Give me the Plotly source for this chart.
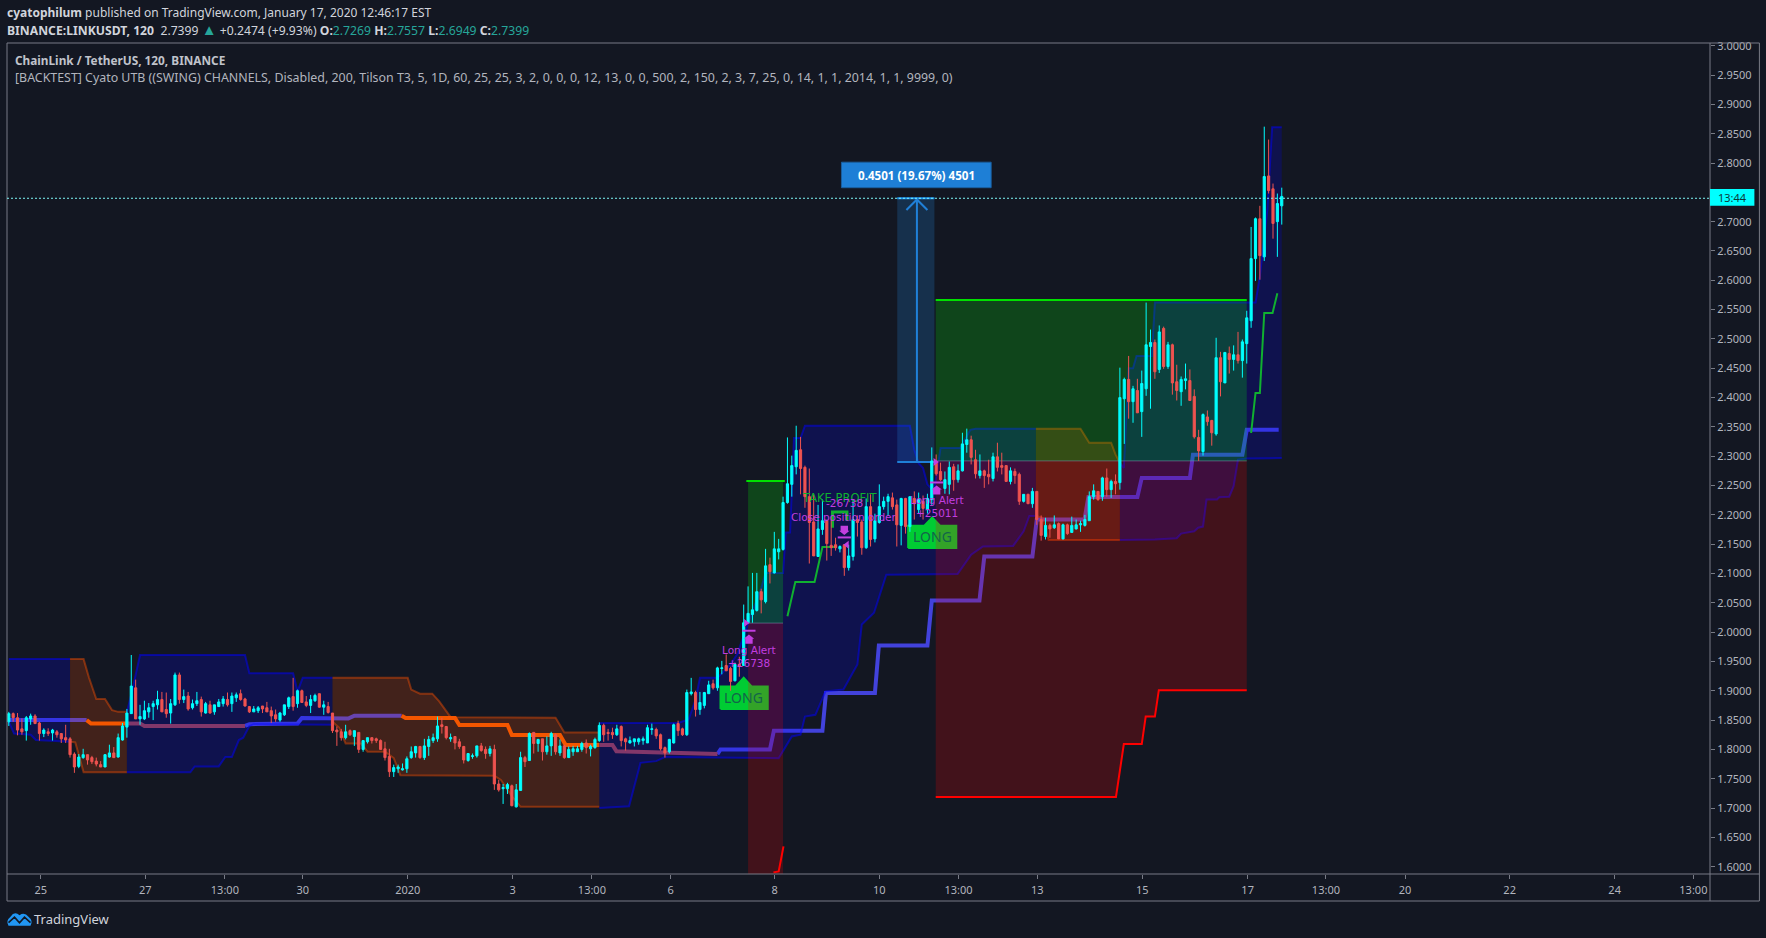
import plotly.graph_objects as go

# ---- candles (prices, one entry per 2h bar) ----
directions = ("uddduuddud" "uddddduudd" "dduuduuuud" "uuuuudduud" "uduududuuu"
              "duuddduudd" "dduuududdu" "ududdddudu" "duuddddduu" "uuuuduuuud"
              "duddduuudd" "udduuduudu" "duduududuu" "uuduuudddu" "dduuuuuudd"
              "duudduuduu" "uduudduduu" "uududuuuuu" "udddduuddd" "uduudduduu"
              "uuddududud" "uudduuduuu" "dduddudddu" "ddududdudu" "duduuuuuud"
              "ududuududu" "uudududduu" "ddduddudud" "uduuuududd" "uu")
highs = [1.864,1.863,1.862,1.853,1.857,1.861,1.860,1.847,1.836,1.836,
1.835,1.833,1.828,1.842,1.821,1.795,1.792,1.801,1.791,1.789,
1.786,1.780,1.792,1.808,1.804,1.827,1.845,1.869,1.961,1.919,
1.876,1.883,1.879,1.883,1.900,1.898,1.897,1.886,1.931,1.931,
1.902,1.898,1.885,1.898,1.890,1.881,1.883,1.876,1.886,1.891,
1.897,1.897,1.897,1.902,1.888,1.874,1.874,1.874,1.874,1.881,
1.873,1.868,1.864,1.876,1.890,1.922,1.902,1.902,1.891,1.893,
1.895,1.895,1.883,1.881,1.862,1.839,1.835,1.842,1.834,1.832,
1.829,1.815,1.820,1.820,1.820,1.817,1.813,1.801,1.774,1.774,
1.776,1.788,1.805,1.806,1.806,1.818,1.823,1.827,1.856,1.854,
1.840,1.827,1.822,1.818,1.806,1.793,1.793,1.806,1.811,1.805,
1.806,1.808,1.748,1.741,1.743,1.740,1.741,1.796,1.789,1.829,
1.829,1.818,1.818,1.822,1.830,1.827,1.817,1.808,1.805,1.806,
1.806,1.813,1.817,1.808,1.820,1.846,1.844,1.835,1.837,1.842,
1.841,1.820,1.822,1.818,1.820,1.822,1.842,1.844,1.837,1.827,
1.805,1.818,1.844,1.849,1.837,1.902,1.922,1.900,1.898,1.898,
1.917,1.919,1.941,1.951,1.962,1.941,1.948,1.958,2.047,2.078,
2.101,2.101,2.074,2.142,2.127,2.171,2.159,2.231,2.332,2.301,
2.352,2.333,2.284,2.279,2.235,2.217,2.226,2.192,2.192,2.161,
2.148,2.149,2.149,2.226,2.199,2.192,2.228,2.235,2.202,2.252,
2.231,2.236,2.238,2.226,2.229,2.229,2.231,2.240,2.238,2.233,
2.236,2.315,2.303,2.289,2.274,2.291,2.287,2.286,2.340,2.347,
2.335,2.311,2.303,2.277,2.294,2.306,2.323,2.306,2.284,2.281,
2.279,2.272,2.235,2.236,2.246,2.240,2.199,2.195,2.185,2.199,
2.187,2.185,2.185,2.197,2.192,2.190,2.200,2.240,2.252,2.240,
2.265,2.279,2.260,2.269,2.451,2.434,2.471,2.420,2.432,2.446,
2.562,2.516,2.499,2.523,2.521,2.495,2.492,2.456,2.436,2.458,
2.448,2.414,2.345,2.373,2.378,2.362,2.502,2.478,2.477,2.487,
2.489,2.512,2.499,2.548,2.691,2.707,2.727,2.862,2.840,2.765,
2.748,2.758]
body_tops = [1.861,1.861,1.854,1.835,1.854,1.857,1.857,1.845,1.833,1.830,
1.833,1.830,1.827,1.820,1.818,1.792,1.787,1.791,1.791,1.786,
1.780,1.774,1.791,1.794,1.794,1.820,1.840,1.862,1.908,1.905,
1.856,1.866,1.871,1.878,1.885,1.885,1.868,1.878,1.927,1.927,
1.890,1.891,1.878,1.883,1.885,1.878,1.876,1.876,1.881,1.886,
1.885,1.891,1.893,1.895,1.886,1.873,1.869,1.871,1.874,1.871,
1.866,1.859,1.862,1.876,1.888,1.890,1.900,1.900,1.881,1.885,
1.892,1.895,1.876,1.873,1.862,1.833,1.830,1.830,1.832,1.832,
1.829,1.815,1.820,1.820,1.818,1.815,1.801,1.788,1.769,1.770,
1.767,1.784,1.796,1.805,1.805,1.806,1.817,1.820,1.840,1.842,
1.839,1.820,1.822,1.813,1.805,1.793,1.789,1.806,1.806,1.800,
1.801,1.800,1.741,1.735,1.740,1.738,1.731,1.786,1.786,1.827,
1.829,1.817,1.818,1.806,1.827,1.825,1.806,1.806,1.800,1.801,
1.801,1.810,1.811,1.805,1.817,1.841,1.841,1.829,1.829,1.835,
1.839,1.818,1.815,1.818,1.818,1.818,1.837,1.835,1.834,1.825,
1.803,1.817,1.842,1.844,1.835,1.897,1.898,1.897,1.880,1.897,
1.910,1.912,1.939,1.939,1.943,1.938,1.945,1.945,2.016,2.032,
2.038,2.069,2.069,2.113,2.115,2.142,2.142,2.221,2.253,2.284,
2.310,2.311,2.281,2.231,2.188,2.176,2.190,2.190,2.148,2.149,
2.146,2.149,2.130,2.192,2.192,2.188,2.214,2.214,2.190,2.214,
2.223,2.231,2.229,2.217,2.228,2.228,2.231,2.228,2.226,2.223,
2.228,2.292,2.291,2.274,2.260,2.281,2.282,2.275,2.321,2.328,
2.328,2.294,2.275,2.275,2.269,2.299,2.299,2.284,2.284,2.275,
2.274,2.269,2.235,2.235,2.240,2.240,2.192,2.182,2.182,2.183,
2.185,2.183,2.183,2.182,2.183,2.185,2.192,2.231,2.241,2.240,
2.263,2.263,2.257,2.257,2.400,2.431,2.431,2.415,2.412,2.424,
2.490,2.494,2.494,2.512,2.518,2.490,2.490,2.427,2.431,2.432,
2.429,2.402,2.332,2.371,2.367,2.361,2.468,2.468,2.477,2.475,
2.473,2.473,2.495,2.536,2.637,2.705,2.705,2.777,2.778,2.756,
2.731,2.743]
body_bottoms = [1.847,1.854,1.833,1.830,1.832,1.852,1.844,1.827,1.827,1.827,
1.828,1.825,1.818,1.816,1.791,1.770,1.771,1.786,1.782,1.779,
1.775,1.770,1.770,1.787,1.786,1.787,1.816,1.838,1.861,1.852,
1.852,1.852,1.864,1.873,1.876,1.864,1.861,1.862,1.876,1.885,
1.885,1.869,1.871,1.878,1.864,1.862,1.862,1.864,1.873,1.878,
1.876,1.878,1.888,1.885,1.874,1.864,1.864,1.866,1.869,1.864,
1.857,1.852,1.850,1.859,1.873,1.873,1.878,1.880,1.875,1.875,
1.883,1.872,1.872,1.863,1.832,1.830,1.820,1.820,1.825,1.822,
1.800,1.800,1.813,1.815,1.815,1.800,1.786,1.762,1.762,1.767,
1.765,1.767,1.786,1.794,1.786,1.786,1.805,1.815,1.818,1.839,
1.820,1.818,1.811,1.805,1.782,1.781,1.788,1.789,1.798,1.793,
1.793,1.741,1.731,1.733,1.733,1.704,1.702,1.730,1.779,1.781,
1.810,1.810,1.796,1.796,1.806,1.796,1.794,1.786,1.786,1.796,
1.796,1.800,1.803,1.801,1.803,1.815,1.825,1.827,1.825,1.825,
1.815,1.813,1.811,1.813,1.813,1.815,1.811,1.834,1.823,1.801,
1.794,1.796,1.811,1.832,1.825,1.825,1.895,1.868,1.868,1.875,
1.895,1.905,1.905,1.938,1.934,1.916,1.917,1.942,1.943,2.016,
2.030,2.037,2.055,2.052,2.103,2.101,2.137,2.141,2.221,2.252,
2.282,2.279,2.231,2.187,2.130,2.129,2.175,2.151,2.144,2.144,
2.142,2.110,2.110,2.129,2.187,2.144,2.144,2.158,2.159,2.187,
2.214,2.223,2.214,2.183,2.182,2.180,2.180,2.219,2.209,2.211,
2.209,2.226,2.270,2.260,2.245,2.252,2.260,2.260,2.275,2.320,
2.298,2.270,2.267,2.267,2.265,2.262,2.281,2.281,2.257,2.257,
2.267,2.223,2.223,2.219,2.219,2.192,2.165,2.163,2.176,2.178,
2.159,2.159,2.168,2.170,2.176,2.183,2.182,2.190,2.231,2.226,
2.231,2.243,2.243,2.253,2.255,2.398,2.393,2.393,2.374,2.376,
2.415,2.487,2.444,2.448,2.453,2.453,2.425,2.412,2.410,2.429,
2.395,2.333,2.309,2.308,2.359,2.340,2.338,2.427,2.425,2.465,
2.465,2.463,2.463,2.492,2.531,2.637,2.642,2.640,2.753,2.697,
2.700,2.727]
lows = [1.840,1.847,1.824,1.825,1.815,1.842,1.844,1.815,1.821,1.823,
1.815,1.820,1.811,1.811,1.786,1.760,1.768,1.784,1.774,1.775,
1.771,1.770,1.770,1.786,1.786,1.786,1.815,1.820,1.861,1.852,
1.842,1.850,1.854,1.850,1.868,1.864,1.854,1.844,1.874,1.878,
1.879,1.866,1.868,1.874,1.856,1.861,1.861,1.859,1.873,1.873,
1.873,1.864,1.881,1.883,1.873,1.862,1.864,1.862,1.862,1.864,
1.845,1.847,1.847,1.857,1.869,1.866,1.871,1.880,1.872,1.862,
1.881,1.871,1.859,1.861,1.828,1.806,1.815,1.817,1.823,1.806,
1.794,1.796,1.810,1.810,1.811,1.800,1.781,1.753,1.753,1.760,
1.764,1.760,1.784,1.786,1.784,1.782,1.789,1.811,1.813,1.827,
1.817,1.813,1.800,1.801,1.776,1.779,1.784,1.786,1.796,1.784,
1.788,1.731,1.728,1.707,1.724,1.703,1.701,1.730,1.770,1.781,
1.793,1.796,1.781,1.791,1.789,1.791,1.789,1.784,1.786,1.789,
1.796,1.796,1.793,1.788,1.801,1.813,1.813,1.815,1.818,1.823,
1.805,1.798,1.810,1.805,1.808,1.808,1.811,1.825,1.818,1.798,
1.786,1.793,1.810,1.823,1.823,1.823,1.892,1.856,1.859,1.870,
1.895,1.902,1.900,1.928,1.934,1.900,1.916,1.924,1.943,2.016,
2.016,2.035,2.032,2.049,2.083,2.100,2.124,2.139,2.219,2.231,
2.269,2.235,2.212,2.117,2.130,2.129,2.166,2.122,2.130,2.139,
2.136,2.096,2.105,2.122,2.163,2.132,2.142,2.146,2.153,2.185,
2.209,2.198,2.209,2.146,2.148,2.168,2.171,2.192,2.203,2.192,
2.202,2.217,2.267,2.258,2.236,2.235,2.241,2.255,2.274,2.306,
2.286,2.262,2.262,2.246,2.252,2.257,2.274,2.269,2.257,2.252,
2.253,2.217,2.221,2.219,2.212,2.183,2.156,2.158,2.161,2.176,
2.159,2.158,2.166,2.170,2.175,2.171,2.180,2.190,2.226,2.224,
2.224,2.231,2.229,2.235,2.243,2.321,2.364,2.357,2.374,2.333,
2.403,2.381,2.432,2.442,2.449,2.449,2.405,2.395,2.386,2.414,
2.395,2.330,2.292,2.301,2.352,2.318,2.335,2.402,2.425,2.441,
2.446,2.458,2.434,2.458,2.519,2.599,2.601,2.633,2.748,2.671,
2.640,2.695]

# ---- channel segments: (bar, price) ----
upper_a = [(0,1.954),(14,1.954)]
lower_a = [(0,1.847),(1.2,1.827),(5,1.825),(6.2,1.816),(14,1.813)]
upper_b = [(14,1.954),(17.1,1.954),(18.3,1.923),(20,1.886),(22,1.886),(23.6,1.867),(25,1.864),(27,1.864)]
lower_b = [(14,1.813),(15.2,1.812),(17.1,1.761),(27,1.761)]
upper_c = [(27,1.864),(28.2,1.90),(30,1.961),(54,1.961),(55,1.930),(65,1.930),(66,1.899),(67.2,1.922),(74,1.922)]
lower_c = [(27,1.761),(41.5,1.761),(42.5,1.771),(48,1.771),(49.5,1.787),(51,1.787),(52.6,1.816),(53.6,1.820),(55,1.840),(56,1.843),(74,1.842)]
upper_d = [(74,1.922),(91.2,1.922),(92,1.902),(94,1.895),(96.8,1.895),(98.4,1.882),(101,1.855),(124,1.855),(125,1.854),(127,1.829),(135,1.829)]
lower_d = [(74,1.847),(75.5,1.837),(77,1.810),(80.5,1.810),(82,1.796),(86,1.796),(88,1.785),(89.5,1.756),(111,1.755),(112.5,1.748),(115,1.720),(117,1.702),(135,1.702)]
upper_e = [(135,1.845),(153,1.845),(155.4,1.851),(157,1.885),(158,1.922),(162,1.922),(165,1.945),(166.5,1.962),(170,2.035),(172,2.075),(173,2.101),(177,2.101),(177.6,2.170),(178.6,2.170),(179.5,2.331),(181,2.331),(182,2.352),(206,2.352),(207,2.311),(208,2.288),(209,2.280),(210,2.252),(211.5,2.240),(213,2.314),(217.5,2.314),(219.8,2.345),(221,2.347),(234.8,2.347)]
lower_e = [(135,1.700),(141.8,1.703),(143,1.737),(144.4,1.777),(148,1.780),(150,1.787),(176,1.785),(179,1.822),(181,1.825),(182,1.856),(184.4,1.859),(186.7,1.899),(190.8,1.902),(194,1.945),(195,2.013),(197.8,2.033),(200.6,2.098),(216.9,2.099),(220,2.132),(222.7,2.146),(229.6,2.147),(232,2.172),(233.3,2.198),(234.8,2.198)]
upper_f = [(234.8,2.347),(245,2.347),(247,2.323),(252,2.323),(253,2.303),(254,2.289)]
lower_f = [(234.8,2.198),(236.3,2.195),(237.7,2.157),(254,2.157)]
upper_g = [(254,2.289),(254.9,2.280),(256,2.450),(257,2.450),(257.8,2.471),(261.3,2.471),(262,2.562),(285,2.562),(286,2.607),(287.7,2.72),(288.8,2.861),(291,2.861)]
lower_g = [(254,2.157),(262,2.158),(267,2.160),(268,2.168),(271,2.172),(271.9,2.178),(273,2.180),(273.8,2.226),(276.2,2.226),(276.7,2.230),(279,2.231),(280,2.249),(281,2.294),(283,2.296),(291,2.297)]

# ---- channel midline ----
basis_bull_1 = [(0,1.850),(17.8,1.850)]
basis_bear_1 = [(17.8,1.850),(18.8,1.844),(27,1.844)]
basis_bear_1b = [(27,1.844),(30,1.844),(31,1.840),(54,1.840)]
basis_bull_2 = [(54,1.840),(55,1.843),(66,1.844),(67,1.8535),(77.6,1.8525),(79,1.8575),(89.8,1.8575)]
basis_bear_2 = [(89.8,1.8575),(90.7,1.8535),(102,1.8535),(103,1.8415),(114,1.8415),(115,1.8245),(126,1.8245),(127.3,1.8075),(135,1.8075)]
basis_bear_2b = [(135,1.8075),(138,1.8075),(138.9,1.797),(162,1.792)]
basis_bull_3 = [(162,1.792),(162.7,1.8),(174,1.8),(174.9,1.832),(186,1.832),(186.8,1.896),(198,1.896),(198.9,1.977),(210,1.977),(211,2.054),(221.9,2.054),(223,2.129),(234,2.129),(235,2.192),(245.9,2.192),(246.8,2.2305),(258,2.2305),(259,2.263),(270,2.263),(270.7,2.3026),(282,2.3026),(283,2.345),(290.3,2.345)]

# ---- trades ----
trade1_bars = (169, 177)
trade1_entry = 2.0154
trade1_target = 2.2578
trade1_stop_floor = 1.5875
trade1_stop = [(174.8,1.5903),(176,1.592),(177.1,1.6346)]
trail1 = [(178,2.027),(179.8,2.0855),(184.2,2.0855),(186,2.1452),(189.2,2.1452)]
trade2_bars = (211.9, 283)
trade2_entry = 2.292
trade2_target = 2.5664
trade2_stop = [(211.9,1.7188),(253.1,1.7188),(254.9,1.809),(259,1.809),(259.9,1.856),(262,1.856),(262.9,1.901),(283,1.901)]
trail2 = [(284,2.3396),(285,2.4076),(286,2.4076),(287,2.5442),(288.9,2.5442),(290,2.578)]
tp_flag = [(188.3,2.178),(188.3,2.205),(191.6,2.205),(191.6,2.19)]
measure_bars = (203.1, 211.6, 207.6)
measure_prices = (2.29, 2.7399)
long_tag_1 = dict(x0=162.7, x1=173.5, xm=168, ylo=1.8689, yhi=1.9074, ytip=1.9223)
long_tag_2 = dict(x0=205.6, x1=216.6, xm=211.1, ylo=2.1435, yhi=2.1815, ytip=2.1957)

tick_bars = [7.3,31.2,49.4,67.2,91.2,115.2,133.3,151.3,175.1,199,217.1,235.1,259.1,283.2,301.1,319.2,343.1,367.1,385.1]
tick_labels = ["25","27","13:00","30","2020","3","13:00","6","8","10","13:00","13","15","17","13:00","20","22","24","13:00"]
price_ticks = [1.60,1.65,1.70,1.75,1.80,1.85,1.90,1.95,2.00,2.05,2.10,2.15,2.20,2.25,2.30,2.35,2.40,2.45,2.50,2.55,2.60,2.65,2.70,2.80,2.85,2.90,2.95,3.00]
last_price = 2.7399

# ---- page geometry of the panes (pixels) ----
W, H = 1766, 938
L, R, T, B = 6.5, 1709.6, 43.3, 874.3
BG = "#131722"
def xp(x): return (x - L) / (R - L)
def yp(y): return (B - y) / (B - T)

bars = list(range(len(highs)))
opens  = [b if d == "u" else t for d, t, b in zip(directions, body_tops, body_bottoms)]
closes = [t if d == "u" else b for d, t, b in zip(directions, body_tops, body_bottoms)]

def xs(p): return [a for a, _ in p]
def ys(p): return [b for _, b in p]

fig = go.Figure()
def line(p, color, width, **kw):
    fig.add_trace(go.Scatter(x=xs(p), y=ys(p), mode="lines", line=dict(color=color, width=width),
                             hoverinfo="skip", showlegend=False, **kw))
def poly(xv, yv, fill, **kw):
    fig.add_trace(go.Scatter(x=xv, y=yv, mode="lines", fill="toself", fillcolor=fill,
                             line=dict(width=0, color="rgba(0,0,0,0)"), hoverinfo="skip", showlegend=False, **kw))

BULL_BASIS, BEAR_BASIS, BEAR_BASIS_DIM = "#4242dc", "#f05800", "#a34545"
for seg in (basis_bull_1, basis_bull_2, basis_bull_3):
    line(seg, BULL_BASIS, 4)
for seg in (basis_bear_1, basis_bear_2):
    line(seg, BEAR_BASIS, 4)
for seg in (basis_bear_1b, basis_bear_2b):
    line(seg, BEAR_BASIS_DIM, 4)

BLUE_FILL, BROWN_FILL = "rgba(0,0,255,0.2)", "rgba(255,80,0,0.2)"
BLUE_LINE, BROWN_LINE = "rgba(0,0,255,0.5)", "rgba(255,80,0,0.42)"
for up, lo, fc, lc in [(upper_a, lower_a, BLUE_FILL, BLUE_LINE), (upper_b, lower_b, BROWN_FILL, BROWN_LINE),
                       (upper_c, lower_c, BLUE_FILL, BLUE_LINE), (upper_d, lower_d, BROWN_FILL, BROWN_LINE),
                       (upper_e, lower_e, BLUE_FILL, BLUE_LINE), (upper_f, lower_f, BROWN_FILL, BROWN_LINE),
                       (upper_g, lower_g, BLUE_FILL, BLUE_LINE)]:
    poly(xs(up) + xs(lo)[::-1], ys(up) + ys(lo)[::-1], fc)
    line(up, lc, 2)
    line(lo, lc, 2)

# LONG tags: above the channel, under the trade fills (right part is tinted)
for tag in (long_tag_1, long_tag_2):
    fig.add_trace(go.Scatter(
        x=[tag["x0"], tag["x0"], tag["xm"]-1.8, tag["xm"], tag["xm"]+1.8, tag["x1"], tag["x1"], tag["x0"]],
        y=[tag["ylo"], tag["yhi"], tag["yhi"], tag["ytip"], tag["yhi"], tag["yhi"], tag["ylo"], tag["ylo"]],
        mode="lines", fill="toself", fillcolor="#00cc33", line=dict(color="#00cc33", width=2),
        hoverinfo="skip", showlegend=False))

# trade boxes
GREEN_FILL, RED_FILL = "rgba(0,255,0,0.2)", "rgba(255,0,0,0.2)"
a, b = trade1_bars
poly([a, b, b, a], [trade1_entry, trade1_entry, trade1_target, trade1_target], GREEN_FILL)
poly([a, b, b, a], [trade1_entry, trade1_entry, trade1_stop_floor, trade1_stop_floor], RED_FILL)
line([(a-0.4, trade1_target), (b+0.4, trade1_target)], "#00e000", 2)
line(trade1_stop, "#ff0000", 2)
line(trail1, "#10b030", 2)
a, b = trade2_bars
poly([a, b, b, a], [trade2_entry, trade2_entry, trade2_target, trade2_target], GREEN_FILL)
poly([a] + xs(trade2_stop) + [b], [trade2_entry] + ys(trade2_stop) + [trade2_entry], RED_FILL)
line([(a, trade2_target), (b, trade2_target)], "#00e000", 2)
line(trade2_stop, "#ff0000", 2)
line(trail2, "#10b030", 2)
line([(a, trade2_entry), (b, trade2_entry)], "rgba(120,140,170,0.55)", 1)
line([(trade1_bars[0], trade1_entry), (trade1_bars[1], trade1_entry)], "rgba(120,140,170,0.55)", 1)
line(tp_flag, "#10b030", 3)

# price-range measuring tool
m0, m1, mc = measure_bars
lo_p, hi_p = measure_prices
poly([m0, m1, m1, m0], [lo_p, lo_p, hi_p, hi_p], "rgba(33,150,243,0.2)")
line([(m0, lo_p), (m1, lo_p)], "#1f7fd8", 2)
line([(m0, hi_p), (m1, hi_p)], "#2196f3", 2)
line([(mc, lo_p), (mc, hi_p)], "#2080d8", 2)
line([(mc-2.4, hi_p-0.02), (mc, hi_p-0.002), (mc+2.4, hi_p-0.02)], "#2080d8", 2)

# candles go on an overlaid axis pair so they sit above every fill
fig.add_trace(go.Candlestick(x=bars, open=opens, high=highs, low=lows, close=closes,
    increasing=dict(line=dict(color="#00ffff", width=1), fillcolor="#00ffff"),
    decreasing=dict(line=dict(color="#ef5350", width=1), fillcolor="#ef5350"),
    xaxis="x2", yaxis="y2", hoverinfo="skip", showlegend=False))

# purple order markers above the candles
PURPLE = "#c23ee0"
def up_marker(x, bar, tip, foot):
    poly([x-0.85, x+0.85, x+0.85, x+1.2, x, x-1.2, x-0.85, x-0.85],
         [foot, foot, foot+(tip-foot)*0.55, foot+(tip-foot)*0.55, tip, foot+(tip-foot)*0.55, foot+(tip-foot)*0.55, foot],
         PURPLE, xaxis="x2", yaxis="y2")
    line([(x-1.5, bar), (x+1.5, bar)], PURPLE, 2, xaxis="x2", yaxis="y2")
up_marker(169.2, 2.0024, 1.996, 1.980)
up_marker(212.1, 2.2552, 2.250, 2.2348)
up_marker(191.0, 2.1615, 2.1655, 2.1815)
fig.add_trace(go.Scatter(x=[168.5, 211.8], y=[2.0155, 2.29], mode="markers",
    marker=dict(symbol="triangle-right", size=7, color=PURPLE), xaxis="x2", yaxis="y2",
    hoverinfo="skip", showlegend=False))
fig.add_trace(go.Scatter(x=[191.6], y=[2.149], mode="markers",
    marker=dict(symbol="triangle-left", size=7, color=PURPLE), xaxis="x2", yaxis="y2",
    hoverinfo="skip", showlegend=False))

AXIS_TEXT = "#b2b5be"
FONT = "Noto Sans"
xr, yr = [-0.41, 388.9], [1.5875, 3.0047]
fig.update_layout(
    width=W, height=H, paper_bgcolor=BG, plot_bgcolor=BG,
    margin=dict(l=L, r=W-R, t=T, b=H-B, autoexpand=False),
    showlegend=False, dragmode=False, hovermode=False,
    font=dict(family=FONT, color=AXIS_TEXT, size=11),
    xaxis=dict(range=xr, tickmode="array", tickvals=tick_bars, ticktext=tick_labels, showgrid=False,
               zeroline=False, ticks="outside", ticklen=4, tickcolor="#787b86", tickwidth=1,
               showline=False, ticklabelstandoff=2, fixedrange=True, tickangle=0,
               tickfont=dict(size=11, color=AXIS_TEXT), rangeslider=dict(visible=False)),
    yaxis=dict(range=yr, side="right", tickmode="array", tickvals=price_ticks,
               ticktext=[f"{p:.4f}" for p in price_ticks], showgrid=False,
               zeroline=False, ticks="outside", ticklen=4, tickcolor="#787b86", tickwidth=1,
               showline=False, fixedrange=True, tickfont=dict(size=11, color=AXIS_TEXT)),
    xaxis2=dict(range=xr, overlaying="x", visible=False, fixedrange=True, rangeslider=dict(visible=False)),
    yaxis2=dict(range=yr, overlaying="y", visible=False, fixedrange=True),
)

FRAME = "#787b86"
shapes = [
    dict(type="rect", xref="paper", yref="paper", x0=0, x1=xp(1759), y0=yp(901.3), y1=1, line=dict(color=FRAME, width=1)),
    dict(type="line", xref="paper", yref="paper", x0=0, x1=xp(1759), y0=0, y1=0, line=dict(color=FRAME, width=1)),
    dict(type="line", xref="paper", yref="paper", x0=1, x1=1, y0=yp(901.3), y1=1, line=dict(color=FRAME, width=1)),
    dict(type="line", xref="paper", yref="y", x0=0, x1=1, y0=last_price, y1=last_price, line=dict(color="#7ff6f6", width=1, dash="2px,2px")),
    dict(type="rect", xref="paper", yref="paper", x0=1, x1=xp(1754), y0=yp(206), y1=yp(189.3), fillcolor="#00ffff", line=dict(width=0)),
    # measure badge
    dict(type="rect", xref="paper", yref="paper", x0=xp(841), x1=xp(990.7), y0=yp(188), y1=yp(162.5), fillcolor="#1e7fd6", line=dict(color="#1a5f9f", width=1)),
]
# TradingView logo
logo = "M {} {} L {} {} Q {} {} {} {} Q {} {} {} {} Q {} {} {} {} Q {} {} {} {} Z".format(
    xp(8), yp(926), xp(30), yp(926), xp(33), yp(921), xp(28), yp(917), xp(24), yp(912), xp(19), yp(915.5),
    xp(14), yp(911), xp(10), yp(917), xp(5), yp(921), xp(8), yp(926))
shapes.append(dict(type="path", xref="paper", yref="paper", path=logo, fillcolor="#2196f3", line=dict(width=0)))
zig = "M {} {} L {} {} L {} {} L {} {} L {} {}".format(xp(8), yp(923), xp(14), yp(917.5), xp(19), yp(923), xp(24), yp(917.5), xp(30), yp(923))
shapes.append(dict(type="path", xref="paper", yref="paper", path=zig, line=dict(color=BG, width=1.6)))
fig.update_layout(shapes=shapes)

TEAL = "#26a69a"
def v(s): return f'<span style="color:{TEAL}">{s}</span>'
def label(text, x, y, size=12, color="#d1d4dc", family=FONT, xanchor="left"):
    fig.add_annotation(text=text, xref="paper", yref="paper", x=xp(x), y=yp(y), showarrow=False,
                       xanchor=xanchor, yanchor="middle", align="left", font=dict(size=size, color=color, family=family),
                       borderpad=0, borderwidth=0)
def dlabel(text, x, y, size=10.5, color="#c23ee0", family="DejaVu Sans"):
    fig.add_annotation(text=text, x=x, y=y, xref="x", yref="y", showarrow=False, xanchor="center", yanchor="middle",
                       font=dict(size=size, color=color, family=family), borderpad=0)

label("<b>cyatophilum</b> published on TradingView.com, January 17, 2020 12:46:17 EST", 6, 12.7, size=12)
tri = f'<span style="color:{TEAL};font-size:15px">▲</span>'
label(f"<b>BINANCE:LINKUSDT, 120</b>  2.7399 {tri} +0.2474 (+9.93%) <b>O:</b>{v('2.7269')} <b>H:</b>{v('2.7557')} <b>L:</b>{v('2.6949')} <b>C:</b>{v('2.7399')}", 6, 29.3, size=12.2)
label("<b>ChainLink / TetherUS, 120, BINANCE</b>", 14.5, 60, size=11.8, color="#c0c3cb")
label("[BACKTEST] Cyato UTB ((SWING) CHANNELS, Disabled, 200, Tilson T3, 5, 1D, 60, 25, 25, 3, 2, 0, 0, 0, 12, 13, 0, 0, 500, 2, 150, 2, 3, 7, 25, 0, 14, 1, 1, 2014, 1, 1, 9999, 0)", 14.5, 77.5, size=12.4, color="#b2b5be")
label("TradingView", 34, 919, size=13, color="#d1d4dc")
label("13:44", 1732, 197.6, size=11, color="#0b3a3a", xanchor="center")
label("<b>0.4501 (19.67%) 4501</b>", 916, 175.3, size=11.6, color="#ffffff", xanchor="center")

dlabel("LONG", 168, 1.8885, size=14, color="#14634a", family=FONT)
dlabel("LONG", 211.1, 2.1625, size=14, color="#14634a", family=FONT)
dlabel("Long Alert", 169.2, 1.970)
dlabel("+26738", 169.2, 1.9467)
dlabel("TAKE PROFIT", 190, 2.228, size=11.5, color="#10b030")
dlabel("-26738", 191.1, 2.220)
dlabel("Close position order", 191, 2.1957)
dlabel("Long Alert", 212.1, 2.2258)
dlabel("+25011", 212.1, 2.2025)

fig.write_html("out.html", config={"displayModeBar": False},
               post_script="document.body.style.margin='0';document.body.style.overflow='hidden';")
